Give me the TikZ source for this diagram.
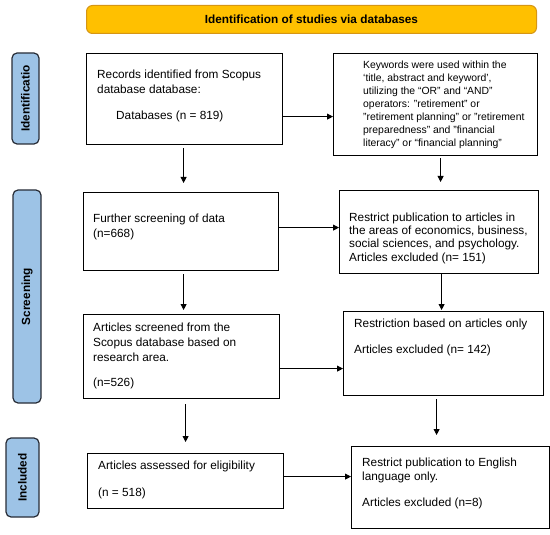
\documentclass[tikz,border=0pt]{standalone}
\usepackage{fontspec}
\setmainfont{Liberation Sans}
\usetikzlibrary{arrows.meta}
\definecolor{titlefill}{RGB}{255,192,0}
\definecolor{titledraw}{RGB}{214,150,20}
\definecolor{sidefill}{RGB}{157,195,230}
\definecolor{sidedraw}{RGB}{40,45,55}
\begin{document}
\begin{tikzpicture}[x=1pt,y=-1pt,
  box/.style={draw=black, line width=1.2pt, anchor=north west, inner sep=0pt},
  side/.style={draw=sidedraw, fill=sidefill, line width=1.2pt, rounded corners=5pt, inner sep=0pt, rotate=90, font=\bfseries\fontsize{11.8}{14}\selectfont},
  txt/.style={anchor=north west, inner sep=0pt, align=left, font=\fontsize{11.8}{15}\selectfont},
  arr/.style={-{Triangle[length=6pt,width=6pt]}, line width=0.8pt}]
\useasboundingbox (0,0) rectangle (550,535);
% title
\node[draw=titledraw, fill=titlefill, line width=1pt, rounded corners=6pt, anchor=north west,
  minimum width=450pt, minimum height=28pt, inner sep=0pt, font=\bfseries\fontsize{11.8}{14}\selectfont]
  (title) at (86,5) {Identification of studies via databases};
% side labels
\node[side, minimum width=91pt, minimum height=27pt] (sid) at (25.5,98.5) {Identificatio};
\node[side, minimum width=213pt, minimum height=28pt] (sscr) at (27,296.5) {Screening};
\node[side, minimum width=79pt, minimum height=33pt] (sinc) at (22.5,477.5) {Included};
% boxes
\node[box, minimum width=196pt, minimum height=91pt] (rec) at (86,53) {};
\node[box, minimum width=204pt, minimum height=102pt] (kw) at (333,53) {};
\node[box, minimum width=195pt, minimum height=78pt] (fur) at (83,192) {};
\node[box, minimum width=199pt, minimum height=83pt] (res1) at (339,190) {};
\node[box, minimum width=196pt, minimum height=84pt] (scr) at (83,314) {};
\node[box, minimum width=200pt, minimum height=84pt] (res2) at (343,311) {};
\node[box, minimum width=196pt, minimum height=55pt] (ass) at (87,453) {};
\node[box, minimum width=198pt, minimum height=82pt] (eng) at (351,446) {};
% texts
\node[txt] (trec) at (97,69.5) {Records identified from Scopus\\database database:\\[11pt]\hspace{19pt}Databases (n = 819)};
\node[txt, font=\fontsize{10.4}{13}\selectfont] (tkw) at (363,61) {Keywords were used within the\\‘title, abstract and keyword’,\\utilizing the “OR” and “AND”\\operators: "retirement" or\\"retirement planning" or "retirement\\preparedness" and "financial\\literacy" or “financial planning"};
\node[txt] (tfur) at (93,213.5) {Further screening of data\\(n=668)};
\node[txt, font=\fontsize{11.8}{13.3}\selectfont] (tres1) at (349,212.5) {Restrict publication to articles in\\the areas of economics, business,\\social sciences, and psychology.\\Articles excluded (n= 151)};
\node[txt] (tscr) at (93,322.5) {Articles screened from the\\Scopus database based on\\research area.\\[10pt](n=526)};
\node[txt] (tres2) at (354,318.5) {Restriction based on articles only\\[11pt]Articles excluded (n= 142)};
\node[txt] (tass) at (98,460.5) {Articles assessed for eligibility\\[12pt](n = 518)};
\node[txt, font=\fontsize{11.8}{14}\selectfont] (teng) at (362,457.5) {Restrict publication to English\\language only.\\[12pt]Articles excluded (n=8)};
% horizontal arrows
\draw[arr] ([yshift=-17.5pt]rec.east) -- ([yshift=-17.5pt]rec.east -| kw.west);
\draw[arr] ([yshift=4pt]fur.east) -- ([yshift=4pt]fur.east -| res1.west);
\draw[arr] ([yshift=-12pt]scr.east) -- ([yshift=-12pt]scr.east -| res2.west);
\draw[arr] ([yshift=4.5pt]ass.east) -- ([yshift=4.5pt]ass.east -| eng.west);
% vertical arrows
\draw[arr, shorten <=3pt, shorten >=9pt] ([xshift=-1pt]rec.south) -- ([xshift=-1pt]rec.south |- fur.north);
\draw[arr, shorten <=3pt, shorten >=4pt] ([xshift=2.5pt]fur.south) -- ([xshift=2.5pt]fur.south |- scr.north);
\draw[arr, shorten <=5pt, shorten >=11pt] ([xshift=4pt]scr.south) -- ([xshift=4pt]scr.south |- ass.north);
\draw[arr, shorten <=2pt, shorten >=8pt] ([xshift=5pt]kw.south) -- ([xshift=5pt]kw.south |- res1.north);
\draw[arr, shorten <=0pt, shorten >=1pt] ([xshift=2.5pt]res1.south) -- ([xshift=2.5pt]res1.south |- res2.north);
\draw[arr, shorten <=3pt, shorten >=11pt] ([xshift=-7pt]res2.south) -- ([xshift=-7pt]res2.south |- eng.north);
\end{tikzpicture}
\end{document}
